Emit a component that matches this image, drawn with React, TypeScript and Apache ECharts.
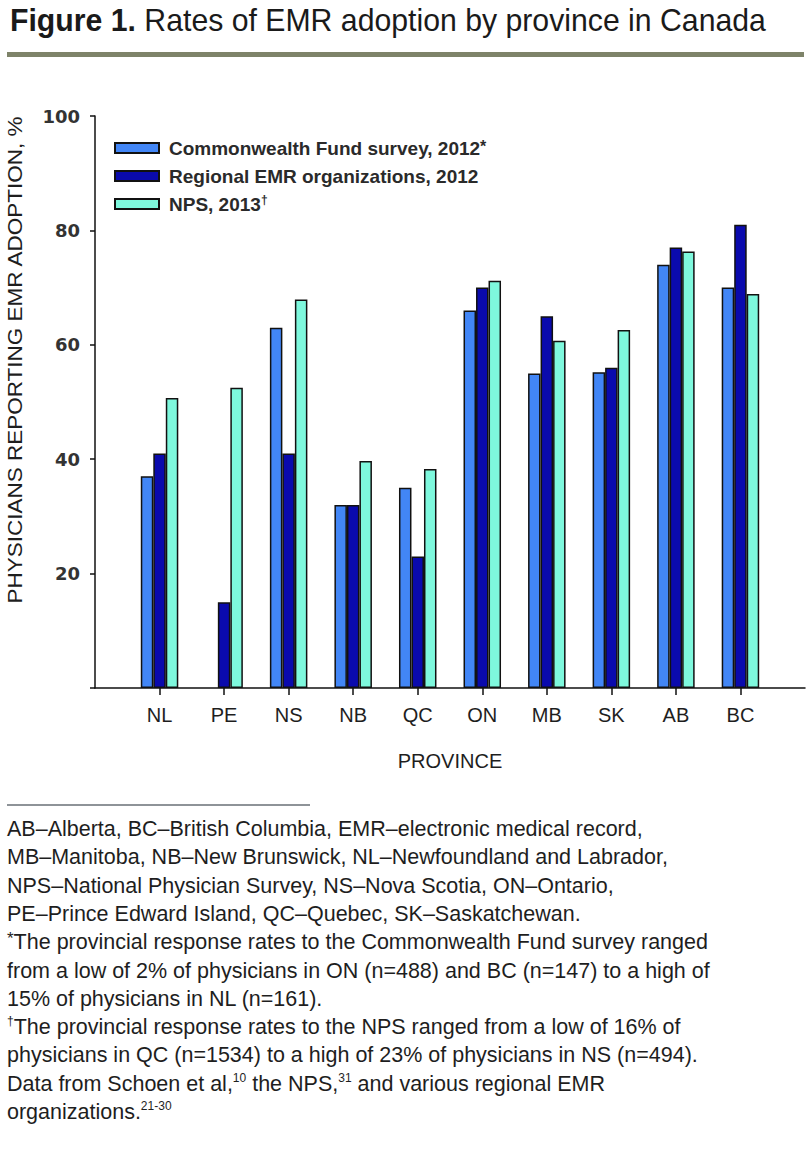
import React, { useEffect, useRef } from 'react';
import * as echarts from 'echarts';

const provinces = ['NL', 'PE', 'NS', 'NB', 'QC', 'ON', 'MB', 'SK', 'AB', 'BC'];
const commonwealth2012 = [37, null, 63, 32, 35, 66, 55, 55.2, 74, 70];
const regionalEmr2012 = [41, 15, 41, 32, 23, 70, 65, 56, 77, 81];
const nps2013 = [50.7, 52.5, 67.9, 39.7, 38.3, 71.2, 60.7, 62.6, 76.3, 68.9];
const seriesNames = ['Commonwealth Fund survey, 2012*', 'Regional EMR organizations, 2012', 'NPS, 2013†'];
const legendLabels = ['Commonwealth Fund survey, 2012{s|*}', 'Regional EMR organizations, 2012', 'NPS, 2013{d|†}'];
const seriesColors = ['#4286F6', '#0A0AAD', '#7EF8DD'];
const yMin = 0;
const yMax = 100;
const yStep = 20;
const titleBold = 'Figure 1.';
const titleRest = 'Rates of EMR adoption by province in Canada';
const yAxisTitle = 'PHYSICIANS REPORTING EMR ADOPTION, %';
const xAxisTitle = 'PROVINCE';
const footnoteLines = [
  'AB–Alberta, BC–British Columbia, EMR–electronic medical record,',
  'MB–Manitoba, NB–New Brunswick, NL–Newfoundland and Labrador,',
  'NPS–National Physician Survey, NS–Nova Scotia, ON–Ontario,',
  'PE–Prince Edward Island, QC–Quebec, SK–Saskatchewan.',
  '{a|*}The provincial response rates to the Commonwealth Fund survey ranged',
  'from a low of 2% of physicians in ON (n=488) and BC (n=147) to a high of',
  '15% of physicians in NL (n=161).',
  '{s|†}The provincial response rates to the NPS ranged from a low of 16% of',
  'physicians in QC (n=1534) to a high of 23% of physicians in NS (n=494).',
  'Data from Schoen et al,{s|10} the NPS,{s|31} and various regional EMR',
  'organizations.{s|21-30}',
];

const SANS = '"Liberation Sans", Arial, sans-serif';
const TEXT = '#1e1e1e';

function measure(text: string, font: string): number {
  const ctx = document.createElement('canvas').getContext('2d');
  if (!ctx) return 0;
  ctx.font = font;
  return ctx.measureText(text).width;
}

export default function App() {
  const ref = useRef<HTMLDivElement>(null);
  useEffect(() => {
    document.body.style.margin = '0';
    const chart = echarts.init(ref.current!, null, { renderer: 'svg' });
    const cats = ['', ...provinces, ''];
    const pad = (arr: (number | null)[]) => [null, ...arr, null];
    const data = [commonwealth2012, regionalEmr2012, nps2013];

    const titleSize = 31;
    const titleW =
      measure(titleBold, `bold ${titleSize}px "Liberation Sans"`) +
      measure(' ' + titleRest, `${titleSize}px "Liberation Sans"`);
    const titleScale = titleW > 0 ? 756 / titleW : 1;

    const yTitleSize = 21;
    const yTitleW = measure(yAxisTitle, `${yTitleSize}px "Liberation Sans"`);
    const yTitleScale = yTitleW > 0 ? 488 / yTitleW : 1;

    const footGraphics = footnoteLines.map((line, i) => ({
      type: 'text',
      x: 7,
      y: 829 + i * 28.3,
      style: {
        text: line,
        fontFamily: SANS,
        fontSize: 21.5,
        fill: TEXT,
        verticalAlign: 'middle',
        rich: {
          s: { fontFamily: SANS, fontSize: 12, verticalAlign: 'top', lineHeight: 24, fill: TEXT },
          a: { fontFamily: SANS, fontSize: 17, verticalAlign: 'top', lineHeight: 24, fill: TEXT },
        },
      },
    }));

    chart.setOption({
      animation: false,
      grid: { left: 95, right: 3, top: 116, bottom: 466, containLabel: false },
      legend: {
        orient: 'vertical',
        left: 109,
        top: 133,
        itemWidth: 44,
        itemHeight: 10,
        itemGap: 8,
        icon: 'rect',
        selectedMode: false,
        data: seriesNames,
        formatter: (name: string) => legendLabels[seriesNames.indexOf(name)],
        textStyle: {
          fontFamily: SANS,
          fontSize: 19,
          fontWeight: 'bold',
          color: '#2a2a2a',
          lineHeight: 20,
          padding: [0, 0, 0, 5],
          rich: {
            s: { fontSize: 16, fontWeight: 'bold', verticalAlign: 'top', lineHeight: 20, fontFamily: SANS, color: '#2a2a2a' },
            d: { fontSize: 12, fontWeight: 'bold', verticalAlign: 'top', lineHeight: 20, fontFamily: SANS, color: '#2a2a2a' },
          },
        },
      },
      xAxis: {
        type: 'category',
        data: cats,
        boundaryGap: false,
        name: xAxisTitle,
        nameLocation: 'middle',
        nameGap: 63,
        nameTextStyle: { fontFamily: SANS, fontSize: 20, color: TEXT },
        axisLine: { lineStyle: { color: '#111', width: 1.5 } },
        axisTick: {
          length: 7,
          lineStyle: { color: '#111', width: 1.5 },
          interval: (_i: number, v: string) => v !== '',
        },
        axisLabel: { interval: 0, margin: 17, fontFamily: SANS, fontSize: 20, color: TEXT },
        splitLine: { show: false },
      },
      yAxis: {
        type: 'value',
        min: yMin,
        max: yMax,
        interval: yStep,
        axisLine: { show: true, lineStyle: { color: '#111', width: 1.5 } },
        axisTick: { show: true, length: 5, lineStyle: { color: '#111', width: 1.5 } },
        axisLabel: {
          margin: 15,
          fontFamily: '"DejaVu Sans", Verdana, sans-serif',
          fontWeight: 'bold',
          fontSize: 18,
          color: '#333',
          formatter: (v: number) => (v === 0 ? '' : String(v)),
        },
        splitLine: { show: false },
      },
      series: seriesNames.map((name, i) => ({
        name,
        type: 'bar',
        data: pad(data[i]),
        barWidth: 12.5,
        barGap: '0%',
        itemStyle: { color: seriesColors[i], borderColor: '#111', borderWidth: 1.5 },
      })),
      graphic: [
        {
          type: 'text',
          x: 10,
          y: 20,
          scaleX: titleScale,
          style: {
            text: `{b|${titleBold}} ${titleRest}`,
            fontFamily: SANS,
            fontSize: titleSize,
            fill: '#1a1a1a',
            verticalAlign: 'middle',
            rich: { b: { fontFamily: SANS, fontSize: titleSize, fontWeight: 'bold', fill: '#1a1a1a' } },
          },
        },
        { type: 'rect', shape: { x: 7, y: 52, width: 797, height: 5 }, style: { fill: '#7e8369' } },
        {
          type: 'text',
          x: 15,
          y: 360,
          rotation: Math.PI / 2,
          scaleX: yTitleScale,
          style: {
            text: yAxisTitle,
            fontFamily: SANS,
            fontSize: yTitleSize,
            fill: TEXT,
            align: 'center',
            verticalAlign: 'middle',
          },
        },
        { type: 'line', shape: { x1: 7, y1: 805, x2: 310, y2: 805 }, style: { stroke: '#8e9398', lineWidth: 2 } },
        ...footGraphics,
      ],
    });
    return () => chart.dispose();
  }, []);
  return <div ref={ref} style={{ width: 808, height: 1154 }} />;
}
